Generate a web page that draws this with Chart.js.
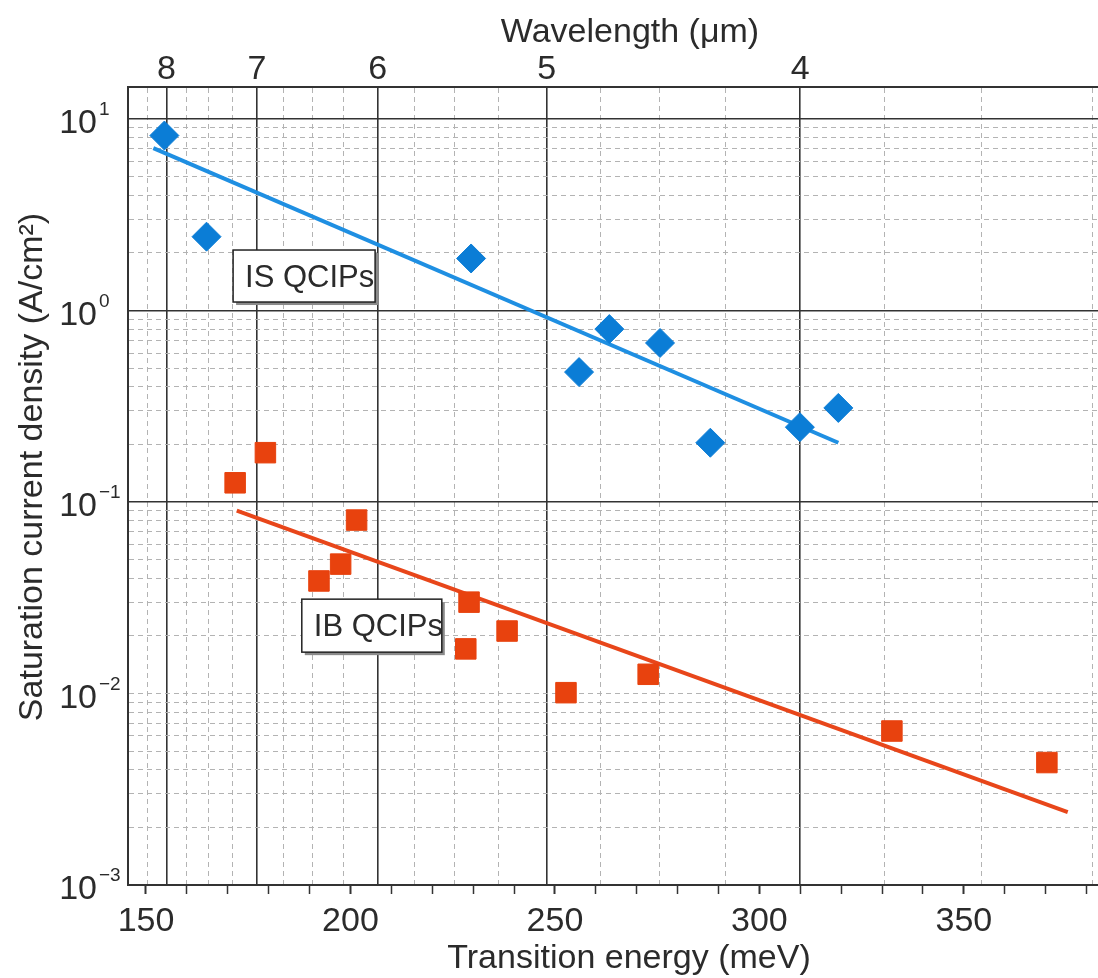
<!DOCTYPE html>
<html>
<head>
<meta charset="utf-8">
<title>Saturation current density vs transition energy</title>
<script src="https://cdn.jsdelivr.net/npm/chart.js@4.4.1/dist/chart.umd.min.js"></script>
<style>
    html, body { margin: 0; padding: 0; background: #fff; }
    #wrap { width: 1098px; height: 978px; }
</style>
</head>
<body>
<div id="wrap"><canvas id="chart" width="1098" height="978"></canvas></div>
<script>
const isEnergy = [154.5, 164.8, 229.5, 255.9, 263.3, 275.7, 288.0, 309.9, 319.3];
const isDensity = [8.2, 2.43, 1.87, 0.477, 0.80, 0.677, 0.204, 0.246, 0.310];
const isFitEnergy = [151.8, 319.3];
const isFitDensity = [7.05, 0.204];

const ibEnergy = [171.8, 179.2, 192.3, 197.6, 201.5, 228.2, 229.0, 238.3, 252.7, 272.8, 332.4, 370.3];
const ibDensity = [0.126, 0.181, 0.0387, 0.0474, 0.0805, 0.0171, 0.0300, 0.0212, 0.0101, 0.0126, 0.00637, 0.00436];
const ibFitEnergy = [172.2, 375.4];
const ibFitDensity = [0.0901, 0.0024];

const energyTicks = [150, 160, 170, 180, 190, 200, 210, 220, 230, 240, 250, 260, 270, 280, 290, 300, 310, 320, 330, 340, 350, 360, 370, 380];
const energyLabels = [150, 200, 250, 300, 350];
const wavelengthTicks = [8.25, 8, 7.75, 7.5, 7.25, 7, 6.75, 6.5, 6.25, 6, 5.75, 5.5, 5.25, 5, 4.75, 4.5, 4.25, 4, 3.75, 3.5, 3.25];
const wavelengthLabels = [8, 7, 6, 5, 4];
const densityDecades = [0.001, 0.01, 0.1, 1, 10];
const densityExponents = ["\u22123", "\u22122", "\u22121", "0", "1"];
const densityMinor = [2, 3, 4, 5, 6, 7, 8, 9];

const FONT = "'Liberation Sans', Arial, Helvetica, sans-serif";
const TEXT = "#2b2b2b";
const DARK = "#333333";
const GRID = "#b3b3b3";
const BLUE = "#0b7dd6";
const BLUE_LINE = "#1f8fe2";
const RED = "#e8420e";
const RED_LINE = "#e8461a";

const E_MIN = 145.6, E_MAX = 382.8;
const J_MIN = 0.001, J_MAX = 14.7;

const notes = [
    { text: "IS QCIPs", energy: 171.3, density: 2.07, width: 142, height: 52 },
    { text: "IB QCIPs", energy: 188.1, density: 0.0311, width: 140, height: 53 }
];

const densityTicks = [];
densityDecades.forEach(d => {
    densityTicks.push(d);
    if (d < 10) densityMinor.forEach(m => densityTicks.push(m * d));
});

function toPoints(xs, ys) {
    return xs.map((x, i) => ({ x: x, y: ys[i] }));
}

function isWholeMicron(ctx) {
    return ctx.tick !== undefined && wavelengthLabels.includes(wavelengthTicks[ctx.index]);
}

function isStrongDecade(ctx) {
    if (!ctx.tick) return false;
    const v = ctx.tick.value;
    return [0.1, 1, 10].some(d => Math.abs(v - d) / d < 1e-6);
}

function fitHorizontal(height) {
    return s => {
        s.height = height;
        s.paddingLeft = 0;
        s.paddingRight = 0;
    };
}

const decorations = {
    id: "decorations",
    afterDraw(chart) {
        const { ctx, scales } = chart;
        const xs = scales.x, ys = scales.y;
        ctx.save();
        ctx.fillStyle = TEXT;

        // y tick labels, 10 with a raised exponent
        densityDecades.forEach((d, i) => {
            const py = ys.getPixelForValue(d) + 5;
            ctx.font = `34px ${FONT}`;
            ctx.textAlign = "right";
            ctx.textBaseline = "middle";
            ctx.fillText("10", 97, py);
            ctx.font = `19px ${FONT}`;
            ctx.textAlign = "left";
            ctx.fillText(densityExponents[i], 99, py - 14);
        });

        ctx.font = `34px ${FONT}`;
        ctx.textAlign = "center";
        ctx.textBaseline = "alphabetic";
        ctx.fillText("Wavelength (\u03bcm)", 630, 42);
        ctx.fillText("Transition energy (meV)", 629, 968);

        ctx.save();
        ctx.translate(42, 467);
        ctx.rotate(-Math.PI / 2);
        ctx.fillText("Saturation current density (A/cm\u00b2)", 0, 0);
        ctx.restore();

        notes.forEach(n => {
            const bx = xs.getPixelForValue(n.energy);
            const by = ys.getPixelForValue(n.density);
            ctx.fillStyle = "#8a8a8a";
            ctx.fillRect(bx + 3, by + 3, n.width, n.height);
            ctx.fillStyle = "#ffffff";
            ctx.fillRect(bx, by, n.width, n.height);
            ctx.strokeStyle = "#222";
            ctx.lineWidth = 1.5;
            ctx.strokeRect(bx, by, n.width, n.height);
            ctx.fillStyle = TEXT;
            ctx.font = `31px ${FONT}`;
            ctx.textAlign = "left";
            ctx.textBaseline = "alphabetic";
            ctx.fillText(n.text, bx + 12, by + 37);
        });
        ctx.restore();
    }
};

new Chart(document.getElementById("chart"), {
    type: "scatter",
    data: {
        datasets: [
            { label: "IS QCIPs", data: toPoints(isEnergy, isDensity), pointStyle: "rectRot", pointRadius: 14.5, backgroundColor: BLUE, borderColor: BLUE, borderWidth: 1 },
            { label: "IB QCIPs", data: toPoints(ibEnergy, ibDensity), pointStyle: "rect", pointRadius: 14.5, backgroundColor: RED, borderColor: RED, borderWidth: 1 },
            { label: "IS fit", data: toPoints(isFitEnergy, isFitDensity), showLine: true, pointRadius: 0, borderColor: BLUE_LINE, borderWidth: 4 },
            { label: "IB fit", data: toPoints(ibFitEnergy, ibFitDensity), showLine: true, pointRadius: 0, borderColor: RED_LINE, borderWidth: 4 }
        ]
    },
    options: {
        responsive: false,
        animation: false,
        devicePixelRatio: 1,
        layout: { padding: 0, autoPadding: false },
        plugins: { legend: { display: false }, tooltip: { enabled: false } },
        scales: {
            x: {
                type: "linear",
                position: "bottom",
                min: E_MIN,
                max: E_MAX,
                afterBuildTicks: s => { s.ticks = energyTicks.map(v => ({ value: v })); },
                afterFit: fitHorizontal(93),
                ticks: {
                    autoSkip: false,
                    maxRotation: 0,
                    padding: 7,
                    color: TEXT,
                    font: { family: FONT, size: 34 },
                    callback: v => energyLabels.includes(v) ? String(v) : ""
                },
                grid: {
                    drawOnChartArea: false,
                    drawTicks: true,
                    tickLength: 9,
                    tickColor: DARK,
                    tickWidth: ctx => ctx.tick && energyLabels.includes(ctx.tick.value) ? 2 : 1.5
                },
                border: { display: true, color: DARK, width: 2 }
            },
            x2: {
                type: "linear",
                position: "top",
                min: E_MIN,
                max: E_MAX,
                afterBuildTicks: s => { s.ticks = wavelengthTicks.map(w => ({ value: 1240 / w })); },
                afterFit: fitHorizontal(87),
                ticks: {
                    autoSkip: false,
                    maxRotation: 0,
                    padding: -3,
                    color: TEXT,
                    font: { family: FONT, size: 34 },
                    callback: (v, i) => wavelengthLabels.includes(wavelengthTicks[i]) ? String(wavelengthTicks[i]) : ""
                },
                grid: {
                    drawTicks: false,
                    color: ctx => isWholeMicron(ctx) ? DARK : GRID,
                    lineWidth: ctx => isWholeMicron(ctx) ? 1.6 : 1
                },
                border: {
                    display: true,
                    color: DARK,
                    width: 2,
                    dash: ctx => ctx.tick && !isWholeMicron(ctx) ? [5, 4] : []
                }
            },
            y: {
                type: "logarithmic",
                min: J_MIN,
                max: J_MAX,
                afterBuildTicks: s => { s.ticks = densityTicks.map(v => ({ value: v })); },
                afterFit: s => { s.width = 128; },
                ticks: { display: false, autoSkip: false },
                grid: {
                    drawTicks: false,
                    color: ctx => isStrongDecade(ctx) ? DARK : GRID,
                    lineWidth: ctx => isStrongDecade(ctx) ? 1.6 : 1
                },
                border: {
                    display: true,
                    color: DARK,
                    width: 2,
                    dash: ctx => ctx.tick && !isStrongDecade(ctx) ? [5, 4] : []
                }
            }
        }
    },
    plugins: [decorations]
});
</script>
</body>
</html>
